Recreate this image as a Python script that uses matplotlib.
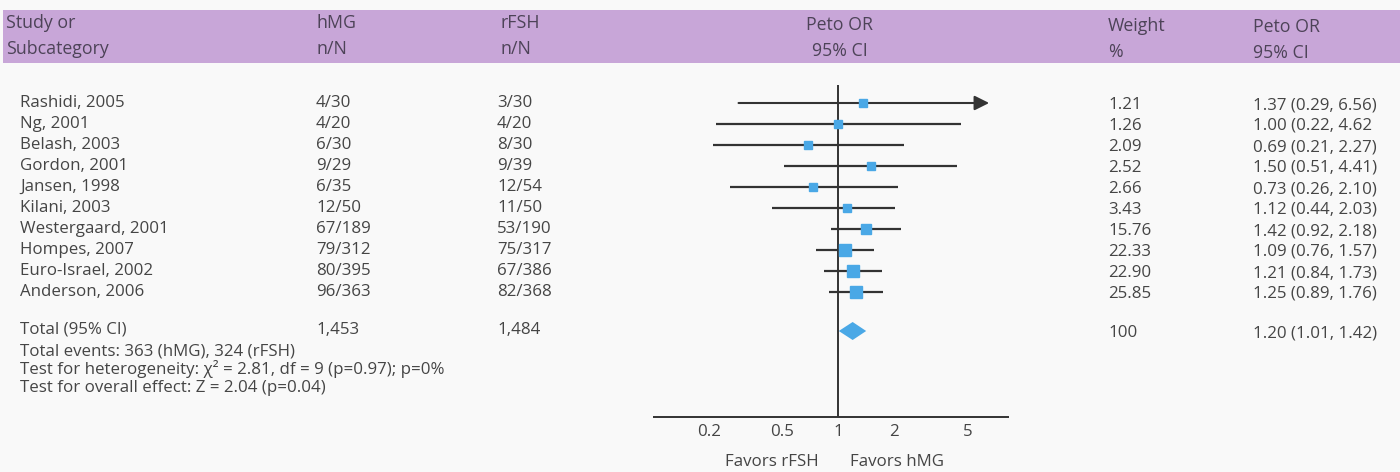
import numpy as np
import matplotlib.pyplot as plt
from matplotlib.patches import Rectangle, Polygon

studies = ["Rashidi, 2005", "Ng, 2001", "Belash, 2003", "Gordon, 2001", "Jansen, 1998",
           "Kilani, 2003", "Westergaard, 2001", "Hompes, 2007", "Euro-Israel, 2002",
           "Anderson, 2006"]
hmg = ["4/30", "4/20", "6/30", "9/29", "6/35", "12/50", "67/189", "79/312", "80/395", "96/363"]
rfsh = ["3/30", "4/20", "8/30", "9/39", "12/54", "11/50", "53/190", "75/317", "67/386", "82/368"]
weights = [1.21, 1.26, 2.09, 2.52, 2.66, 3.43, 15.76, 22.33, 22.90, 25.85]
peto_or = [1.37, 1.00, 0.69, 1.50, 0.73, 1.12, 1.42, 1.09, 1.21, 1.25]
ci_low = [0.29, 0.22, 0.21, 0.51, 0.26, 0.44, 0.92, 0.76, 0.84, 0.89]
ci_high = [6.56, 4.62, 2.27, 4.41, 2.10, 2.03, 2.18, 1.57, 1.73, 1.76]
ci_text = ["1.37 (0.29, 6.56)", "1.00 (0.22, 4.62", "0.69 (0.21, 2.27)", "1.50 (0.51, 4.41)",
           "0.73 (0.26, 2.10)", "1.12 (0.44, 2.03)", "1.42 (0.92, 2.18)", "1.09 (0.76, 1.57)",
           "1.21 (0.84, 1.73)", "1.25 (0.89, 1.76)"]
total_or, total_low, total_high = 1.20, 1.01, 1.42
total_hmg, total_rfsh = "1,453", "1,484"
stats_lines = ["Total events: 363 (hMG), 324 (rFSH)",
               "Test for heterogeneity: \u03c7\u00b2 = 2.81, df = 9 (p=0.97); p=0%",
               "Test for overall effect: Z = 2.04 (p=0.04)"]
ticks = [0.2, 0.5, 1, 2, 5]
tick_labels = ["0.2", "0.5", "1", "2", "5"]

W, H = 1400, 472
FONT = ["Open Sans", "DejaVu Sans"]
plt.rcParams["font.family"] = FONT
TXT = "#454545"
BLUE = "#4aa8e6"
LINE = "#333333"
FS = 12.2

fig = plt.figure(figsize=(W / 100, H / 100), dpi=100, facecolor="#f9f9f9")

# pixel-coordinate axes for the table text
tab = fig.add_axes([0, 0, 1, 1])
tab.set_xlim(0, W)
tab.set_ylim(H, 0)
tab.axis("off")

tab.add_patch(Rectangle((3, 10), W, 53, color="#c8a6d8", lw=0))
hdr = dict(fontsize=12.8, color="#4d4358", va="center")
tab.text(6, 23, "Study or", **hdr)
tab.text(6, 49, "Subcategory", **hdr)
tab.text(316, 23, "hMG", **hdr)
tab.text(316, 49, "n/N", **hdr)
tab.text(500, 23, "rFSH", **hdr)
tab.text(500, 49, "n/N", **hdr)
tab.text(840, 25, "Peto OR", ha="center", **hdr)
tab.text(840, 51, "95% CI", ha="center", **hdr)
tab.text(1108, 26, "Weight", **hdr)
tab.text(1108, 52, "%", **hdr)
tab.text(1253, 27, "Peto OR", **hdr)
tab.text(1253, 53, "95% CI", **hdr)

row_y = [103 + 21 * i for i in range(len(studies))]
body = dict(fontsize=FS, color=TXT, va="center")
for i, y in enumerate(row_y):
    tab.text(20, y, studies[i], **body)
    tab.text(316, y, hmg[i], **body)
    tab.text(497, y, rfsh[i], **body)
    tab.text(1108, y + 2, f"{weights[i]:.2f}", **body)
    tab.text(1253, y + 2, ci_text[i], **body)

total_y = 331
tab.text(20, total_y - 1, "Total (95% CI)", **body)
tab.text(316, total_y - 1, total_hmg, **body)
tab.text(497, total_y - 1, total_rfsh, **body)
tab.text(1108, total_y + 2, "100", **body)
tab.text(1253, total_y + 2, f"{total_or:.2f} ({total_low:.2f}, {total_high:.2f})", **body)
for k, line in enumerate(stats_lines):
    tab.text(20, 351 + 18.5 * k, line, **body)

# forest plot axes: log scale, 185 px per decade, OR=1 at x=838
x0, x1, xc, ppd = 653, 1009, 838, 185
ax = fig.add_axes([x0 / W, 0, (x1 - x0) / W, 1])
ax.set_xscale("log")
ax.set_xlim(10 ** ((x0 - xc) / ppd), 10 ** ((x1 - xc) / ppd))
ax.set_ylim(H, 0)
ax.axis("off")

ax.vlines(1, 85, 417, color=LINE, lw=1.4)
ax.hlines(417, *ax.get_xlim(), color=LINE, lw=1.4)

for i, y in enumerate(row_y):
    if i == 0:
        ax.annotate("", xy=(ci_high[i], y), xytext=(ci_low[i], y),
                    arrowprops=dict(arrowstyle="-|>", lw=1.5, color=LINE,
                                    mutation_scale=22, shrinkA=0, shrinkB=0))
    else:
        ax.hlines(y, ci_low[i], ci_high[i], color=LINE, lw=1.6)
    side = 6 + np.sqrt(weights[i]) * 1.2
    ax.plot(peto_or[i], y, marker="s", ms=side * 0.72, color=BLUE, mec=BLUE, zorder=3)

dy = 9
ax.add_patch(Polygon([(total_low, total_y), (total_or, total_y - dy),
                      (total_high, total_y), (total_or, total_y + dy)],
                     closed=True, color=BLUE, lw=0, zorder=3))

for t, lab in zip(ticks, tick_labels):
    ax.text(t, 432, lab, ha="center", va="center", fontsize=FS, color=TXT)
ax.text(10 ** ((772 - xc) / ppd), 462, "Favors rFSH", ha="center", va="center",
        fontsize=FS, color=TXT)
ax.text(10 ** ((897 - xc) / ppd), 462, "Favors hMG", ha="center", va="center",
        fontsize=FS, color=TXT)

fig.savefig("out.png", dpi=100, facecolor=fig.get_facecolor())
